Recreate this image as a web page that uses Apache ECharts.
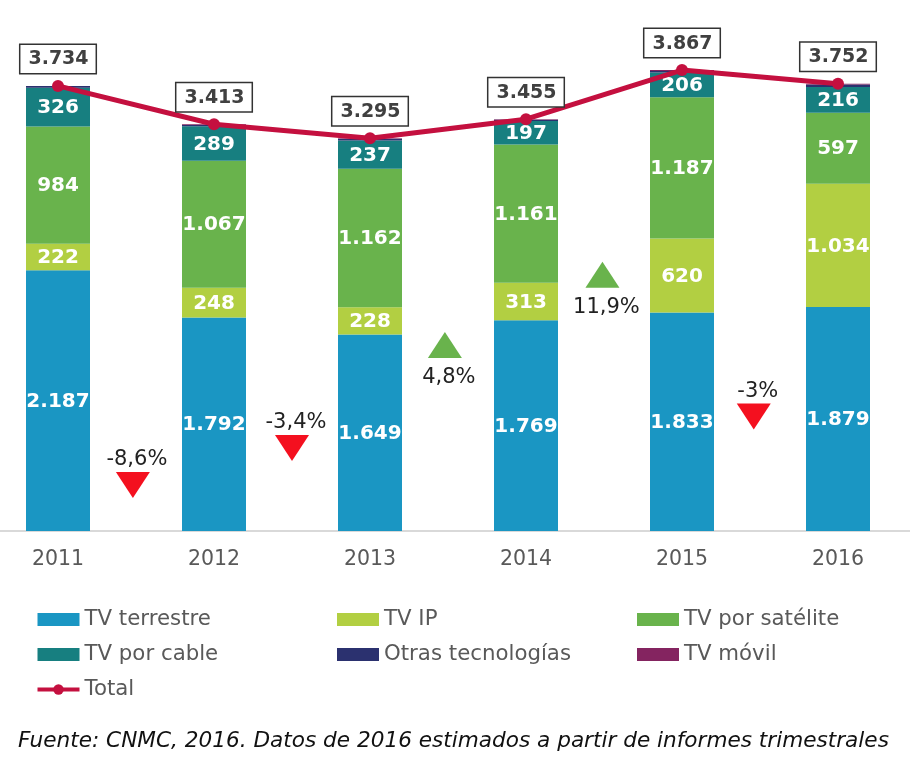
<!DOCTYPE html>
<html>
<head>
<meta charset="utf-8">
<style>
  html, body { margin: 0; padding: 0; background: #fff; }
  #chart { width: 910px; height: 768px; }
</style>
<script src="https://cdn.jsdelivr.net/npm/echarts@6/dist/echarts.min.js"></script>
</head>
<body>
<div id="chart"></div>
<script>
const years = ['2011', '2012', '2013', '2014', '2015', '2016'];

const terrestre = [2187, 1792, 1649, 1769, 1833, 1879];
const tvIp = [222, 248, 228, 313, 620, 1034];
const satelite = [984, 1067, 1162, 1161, 1187, 597];
const cable = [326, 289, 237, 197, 206, 216];
const otras = [14, 10, 14, 11, 13, 20];
const movil = [1, 7, 5, 4, 8, 6];
const total = [3734, 3413, 3295, 3455, 3867, 3752];

// variaciones interanuales
const changeLabels = ['-8,6%', '-3,4%', '4,8%', '11,9%', '-3%'];
const changeX = [0.48, 1.5, 2.48, 3.49, 4.46];
const changeY = [386, 697, 1560, 2150, 960];
const changeUp = [false, false, true, true, false];

const barColors = ['#1a96c3', '#b2cf42', '#69b34c', '#177f80', '#2b316f', '#842460'];
const lineColor = '#c4103f';
const fontName = '"DejaVu Sans", Verdana, sans-serif';

function formatNumber(v) {
    return String(v).replace(/\B(?=(\d{3})+$)/g, '.');
}

function barSeries(name, data, index, showLabel) {
    return {
        name: name,
        type: 'bar',
        stack: 'tv',
        data: data,
        barWidth: 64,
        itemStyle: { color: barColors[index] },
        label: {
            show: showLabel,
            position: 'inside',
            offset: [0, 1],
            color: '#ffffff',
            fontFamily: fontName,
            fontWeight: 'bold',
            fontSize: 20,
            formatter: p => formatNumber(p.value)
        }
    };
}

function legendColumn(left, names) {
    return {
        left: left,
        top: 609,
        padding: 0,
        orient: 'vertical',
        data: names.map(name => (name === 'Total' ? { name: name } : { name: name, icon: 'rect' })),
        itemWidth: 42,
        itemHeight: 13,
        itemGap: 14,
        lineStyle: { width: 4 },
        textStyle: { color: '#595959', fontFamily: fontName, fontSize: 21.3 }
    };
}

const chart = echarts.init(document.getElementById('chart'));
chart.setOption({
    animation: false,
    backgroundColor: '#ffffff',
    title: {
        text: 'Fuente: CNMC, 2016. Datos de 2016 estimados a partir de informes trimestrales',
        left: 18,
        top: 730,
        padding: 0,
        textStyle: { color: '#111111', fontFamily: fontName, fontSize: 21.6, fontStyle: 'italic', fontWeight: 'normal' }
    },
    legend: [
        legendColumn(35.5, ['TV terrestre', 'TV por cable', 'Total']),
        legendColumn(337, ['TV IP', 'Otras tecnologías']),
        legendColumn(637, ['TV por satélite', 'TV móvil'])
    ],
    grid: { left: -20, top: 0, width: 936, height: 531, outerBoundsMode: 'none' },
    xAxis: [
        {
            type: 'category',
            data: years,
            axisLine: { lineStyle: { color: '#d9d9d9', width: 2 } },
            axisTick: { show: false },
            axisLabel: { color: '#595959', fontFamily: fontName, fontSize: 20.5, margin: 18 }
        },
        { type: 'value', min: -0.5, max: 5.5, show: false }
    ],
    yAxis: { type: 'value', min: 0, max: 4455, show: false },
    series: [
        barSeries('TV terrestre', terrestre, 0, true),
        barSeries('TV IP', tvIp, 1, true),
        barSeries('TV por satélite', satelite, 2, true),
        barSeries('TV por cable', cable, 3, true),
        barSeries('Otras tecnologías', otras, 4, false),
        barSeries('TV móvil', movil, 5, false),
        {
            name: 'Total',
            type: 'line',
            data: total,
            z: 5,
            symbol: 'circle',
            symbolSize: 12,
            lineStyle: { color: lineColor, width: 5 },
            itemStyle: { color: lineColor },
            label: {
                show: true,
                position: 'top',
                distance: 7,
                color: '#404040',
                fontFamily: fontName,
                fontWeight: 'bold',
                fontSize: 19,
                backgroundColor: '#ffffff',
                borderColor: '#333333',
                borderWidth: 1.5,
                padding: [5, 7, 4, 8],
                formatter: p => formatNumber(p.value)
            }
        },
        {
            name: 'Variación',
            type: 'scatter',
            xAxisIndex: 1,
            z: 6,
            symbol: 'triangle',
            symbolSize: [34, 26],
            data: changeLabels.map((text, i) => ({
                value: [changeX[i], changeY[i]],
                symbolRotate: changeUp[i] ? 0 : 180,
                itemStyle: { color: changeUp[i] ? '#69b34c' : '#f4101f', opacity: 1 },
                label: {
                    show: true,
                    formatter: text,
                    position: changeUp[i] ? 'bottom' : 'top',
                    distance: changeUp[i] ? 9 : 2,
                    offset: [4, 0],
                    color: '#222222',
                    fontFamily: fontName,
                    fontSize: 21
                }
            }))
        }
    ]
});
</script>
</body>
</html>
